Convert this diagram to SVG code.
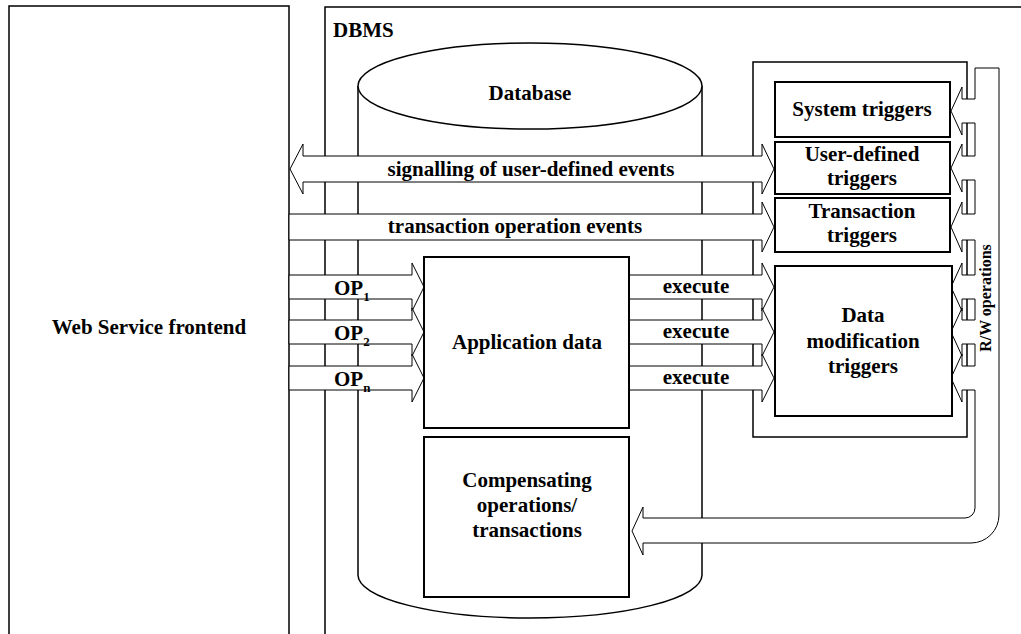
<svg xmlns="http://www.w3.org/2000/svg" width="1021" height="634" viewBox="0 0 1021 634">
<style>
.frame{fill:#fff;stroke:#000;stroke-width:1.5}
.box{fill:#fff;stroke:#000;stroke-width:2}
.arr{fill:#fff;stroke:#000;stroke-width:1}
.t{font-family:"Liberation Serif","Times New Roman",serif;font-weight:bold;font-size:21px;fill:#000}
.m{text-anchor:middle}
.sub{font-size:13px}
</style>
<rect width="1021" height="634" fill="#fff"/>
<g id="web-service-frontend">
<rect class="frame" x="9" y="6" width="280" height="650"/>
<text class="t m" x="149" y="334">Web Service frontend</text>
</g>
<g id="dbms">
<rect class="frame" x="325" y="7" width="730" height="650"/>
<text class="t" x="333" y="37">DBMS</text>
</g>
<g id="database">
<path class="frame" d="M358,86 L358,575 A172,43 0 0 0 702,575 L702,86"/>
<ellipse class="frame" cx="530" cy="86" rx="172" ry="43"/>
<text class="t m" x="530" y="100">Database</text>
</g>
<g id="trigger-container">
<rect class="frame" x="753" y="62" width="214" height="375"/>
</g>
<g id="connectors">
<polygon class="arr" points="290,169 303,144 303,156 762,156 762,144 774,169 762,194 762,182 303,182 303,194"/>
<polygon class="arr" points="289,214 762,214 762,202 774,227 762,252 762,240 289,240"/>
<polygon class="arr" points="289,275 412,275 412,263 424,287 412,311 412,299 289,299"/>
<polygon class="arr" points="289,320 412,320 412,308 424,332 412,356 412,344 289,344"/>
<polygon class="arr" points="289,366 412,366 412,354 424,378 412,402 412,390 289,390"/>
<polygon class="arr" points="629,275 762,275 762,263 774,287 762,311 762,299 629,299"/>
<polygon class="arr" points="629,320 762,320 762,308 774,332 762,356 762,344 629,344"/>
<polygon class="arr" points="629,366 762,366 762,354 774,378 762,402 762,390 629,390"/>
<path class="arr" d="M975,68 L999,68 L999,515 A28,28 0 0 1 971,543 L643,543 L643,555 L632,531 L643,507 L643,518 L965,518 A10,10 0 0 0 975,508 L975,390 L962,390 L962,402 L951,378 L962,354 L962,366 L975,366 L975,344 L962,344 L962,356 L951,332 L962,308 L962,320 L975,320 L975,299 L962,299 L962,311 L951,287 L962,263 L962,275 L975,275 L975,240 L962,240 L962,252 L951,227 L962,202 L962,214 L975,214 L975,180 L962,180 L962,192 L951,168 L962,144 L962,156 L975,156 L975,123 L962,123 L962,135 L951,111 L962,87 L962,99 L975,99 Z"/>
<text class="t m" x="531" y="176">signalling of user-defined events</text>
<text class="t m" x="515" y="233">transaction operation events</text>
<text class="t" x="334" y="295">OP<tspan class="sub" dy="6">1</tspan></text>
<text class="t" x="334" y="340">OP<tspan class="sub" dy="6">2</tspan></text>
<text class="t" x="334" y="386">OP<tspan class="sub" dy="6">n</tspan></text>
<text class="t m" x="696" y="293">execute</text>
<text class="t m" x="696" y="338">execute</text>
<text class="t m" x="696" y="384">execute</text>
<text class="t m" x="0" y="0" style="font-size:16px" transform="translate(991,298) rotate(-90)">R/W operations</text>
</g>
<g id="application-data">
<rect class="box" x="424" y="257" width="205" height="171"/>
<text class="t m" x="527" y="349">Application data</text>
</g>
<g id="compensating-operations">
<rect class="box" x="424" y="437" width="205" height="160"/>
<text class="t m" x="527" y="487">Compensating</text>
<text class="t m" x="527" y="512">operations/</text>
<text class="t m" x="527" y="537">transactions</text>
</g>
<g id="system-triggers">
<rect class="box" x="775" y="82" width="175" height="55"/>
<text class="t m" x="862" y="116">System triggers</text>
</g>
<g id="user-defined-triggers">
<rect class="box" x="775" y="142" width="175" height="52"/>
<text class="t m" x="862" y="161">User-defined</text>
<text class="t m" x="862" y="185">triggers</text>
</g>
<g id="transaction-triggers">
<rect class="box" x="775" y="198" width="175" height="54"/>
<text class="t m" x="862" y="218">Transaction</text>
<text class="t m" x="862" y="242">triggers</text>
</g>
<g id="data-modification-triggers">
<rect class="box" x="775" y="266" width="177" height="150"/>
<text class="t m" x="863" y="322">Data</text>
<text class="t m" x="863" y="348">modification</text>
<text class="t m" x="863" y="373">triggers</text>
</g>
</svg>
